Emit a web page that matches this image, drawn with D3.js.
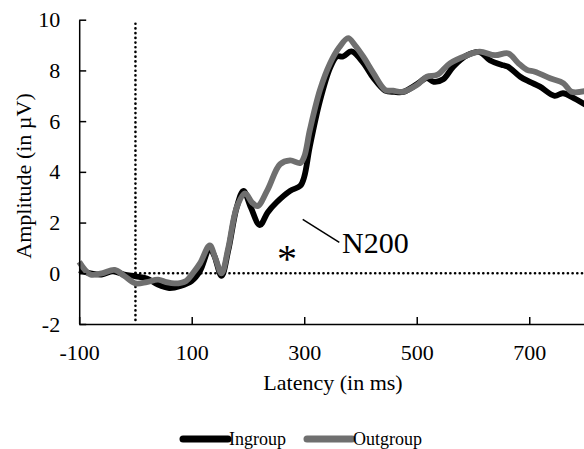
<!DOCTYPE html>
<html>
<head>
<meta charset="utf-8">
<script src="https://cdn.jsdelivr.net/npm/d3@7"></script>
<style>
  body { margin: 0; background: #fff; }
  svg { display: block; font-family: "Liberation Serif", "Times New Roman", serif; }
</style>
</head>
<body>
<div id="wrapper"></div>
<script>
// latency (ms) and amplitude (µV)
const ingroupTimes = [-100, -80, -60, -40, -20, 0, 20, 40, 60, 80, 100, 115, 132, 140, 153, 165, 180, 192, 205, 221, 235, 251, 275, 293, 300, 310, 328, 346, 358, 369, 384, 405, 423, 444, 460, 476, 500, 518, 530, 547, 565, 590, 612, 630, 654, 662, 684, 701, 719, 745, 760, 780, 800];
const ingroupValues = [0.12, 0.0, -0.05, 0.08, -0.05, -0.12, -0.2, -0.45, -0.58, -0.5, -0.3, 0.1, 1.0, 0.7, -0.1, 0.9, 2.6, 3.25, 2.6, 1.9, 2.4, 2.8, 3.25, 3.45, 3.8, 5.0, 6.8, 8.1, 8.55, 8.55, 8.75, 8.3, 7.7, 7.2, 7.15, 7.15, 7.45, 7.7, 7.55, 7.65, 8.15, 8.6, 8.72, 8.4, 8.2, 8.15, 7.75, 7.55, 7.36, 7.0, 7.1, 6.9, 6.65];

const outgroupTimes = [-100, -80, -60, -37, -20, 0, 20, 40, 55, 70, 90, 102, 115, 132, 142, 153, 165, 180, 195, 207, 217, 235, 257, 275, 293, 300, 310, 328, 346, 362, 378, 390, 405, 423, 444, 458, 476, 500, 518, 536, 559, 590, 612, 639, 663, 680, 696, 710, 737, 761, 775, 800];
const outgroupValues = [0.45, -0.05, 0.0, 0.13, -0.1, -0.4, -0.35, -0.25, -0.35, -0.4, -0.3, 0.0, 0.4, 1.1, 0.6, 0.0, 1.0, 2.6, 3.15, 2.8, 2.65, 3.3, 4.3, 4.45, 4.35, 4.6, 5.65, 7.23, 8.28, 8.9, 9.27, 9.0, 8.54, 7.89, 7.23, 7.2, 7.16, 7.42, 7.75, 7.82, 8.28, 8.6, 8.74, 8.6, 8.67, 8.3, 8.02, 7.95, 7.69, 7.49, 7.16, 7.19];

const xTicks = [-100, 100, 300, 500, 700];
const yTicks = [-2, 0, 2, 4, 6, 8, 10];
const seriesNames = ["Ingroup", "Outgroup"];
const seriesColors = ["#000000", "#6f6f6f"];

const width = 584;
const height = 449;

const ingroup = ingroupTimes.map((t, i) => ({ t, v: ingroupValues[i] }));
const outgroup = outgroupTimes.map((t, i) => ({ t, v: outgroupValues[i] }));

const xScale = d3.scaleLinear()
    .domain([-100, 800])
    .range([79.2, 585.5]);

const yScale = d3.scaleLinear()
    .domain([-2, 10])
    .range([324, 19.7]);

const svg = d3.select("#wrapper")
    .append("svg")
    .attr("width", width)
    .attr("height", height);

// dotted reference lines (round dots)
const dotted = sel => sel
    .attr("stroke", "#000")
    .attr("stroke-width", 2.6)
    .attr("stroke-linecap", "round")
    .attr("stroke-dasharray", "0.1,4.6");

svg.append("line")
    .attr("x1", xScale(0)).attr("x2", xScale(0))
    .attr("y1", yScale(10) + 4).attr("y2", yScale(-2))
    .call(dotted);

svg.append("line")
    .attr("x1", xScale(0)).attr("x2", xScale(800))
    .attr("y1", yScale(0)).attr("y2", yScale(0))
    .call(dotted);

const lineGenerator = d3.line()
    .x(d => xScale(d.t))
    .y(d => yScale(d.v))
    .curve(d3.curveCatmullRom);

[ingroup, outgroup].forEach((data, i) => {
    svg.append("path")
        .datum(data)
        .attr("fill", "none")
        .attr("stroke", seriesColors[i])
        .attr("stroke-width", 5.8)
        .attr("stroke-linejoin", "round")
        .attr("d", lineGenerator);
});

// axes, ticks pointing inwards
const plainFormat = d => String(d);

const xAxis = svg.append("g")
    .attr("transform", `translate(0, ${yScale(-2)})`)
    .call(d3.axisBottom(xScale).tickValues(xTicks).tickFormat(plainFormat)
        .tickSizeInner(-7).tickSizeOuter(0).tickPadding(20));

const yAxis = svg.append("g")
    .attr("transform", `translate(${xScale(-100)}, 0)`)
    .call(d3.axisLeft(yScale).tickValues(yTicks).tickFormat(plainFormat)
        .tickSizeInner(-7).tickSizeOuter(0).tickPadding(19));

[xAxis, yAxis].forEach(ax => {
    ax.selectAll("path, line").attr("stroke", "#000").attr("stroke-width", 1.5);
    ax.selectAll("text")
        .attr("fill", "#000")
        .style("font-family", "'Liberation Serif', serif")
        .style("font-size", "22px");
});

svg.append("text")
    .attr("x", 333)
    .attr("y", 390)
    .attr("text-anchor", "middle")
    .style("font-size", "22px")
    .text("Latency (in ms)");

svg.append("text")
    .attr("transform", "translate(31, 176) rotate(-90)")
    .attr("text-anchor", "middle")
    .style("font-size", "22px")
    .text("Amplitude (in µV)");

// N200 annotation
svg.append("line")
    .attr("x1", 302.7).attr("y1", 219.3)
    .attr("x2", 339.3).attr("y2", 242.3)
    .attr("stroke", "#000")
    .attr("stroke-width", 1.5);

svg.append("text")
    .attr("x", 342)
    .attr("y", 253)
    .style("font-size", "30px")
    .text("N200");

svg.append("text")
    .attr("x", 287)
    .attr("y", 272)
    .attr("text-anchor", "middle")
    .style("font-size", "40px")
    .text("*");

// legend
const legendX = [183, 307];
seriesNames.forEach((name, i) => {
    svg.append("line")
        .attr("x1", legendX[i]).attr("x2", legendX[i] + 45)
        .attr("y1", 439).attr("y2", 439)
        .attr("stroke", seriesColors[i])
        .attr("stroke-width", 7)
        .attr("stroke-linecap", "round");
    svg.append("text")
        .attr("x", legendX[i] + 46)
        .attr("y", 444.5)
        .style("font-size", "18px")
        .text(name);
});
</script>
</body>
</html>
